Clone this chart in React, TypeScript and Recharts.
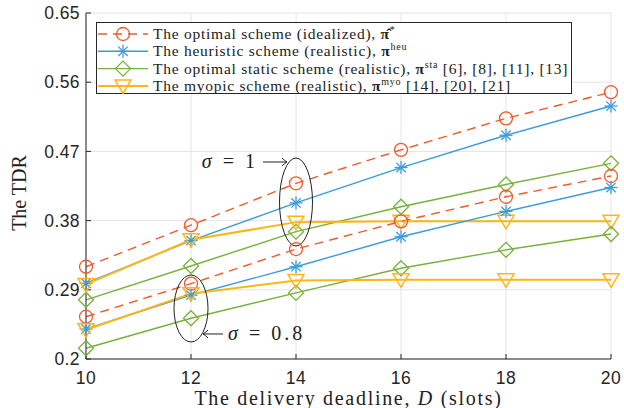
import React from 'react';
import { LineChart, Line, XAxis, YAxis, CartesianGrid, Legend, ReferenceDot } from 'recharts';

// delivery deadline D (slots)
const deadlines = [10, 12, 14, 16, 18, 20];

// sigma = 1
const optimalHigh = [0.32, 0.374, 0.4285, 0.472, 0.513, 0.547];
const heuristicHigh = [0.2985, 0.354, 0.403, 0.449, 0.491, 0.529];
const staticHigh = [0.277, 0.321, 0.3656, 0.398, 0.427, 0.4545];
const myopicHigh = [0.297, 0.355, 0.378, 0.379, 0.379, 0.379];

// sigma = 0.8
const optimalLow = [0.255, 0.298, 0.343, 0.379, 0.411, 0.438];
const heuristicLow = [0.239, 0.283, 0.32, 0.359, 0.392, 0.423];
const staticLow = [0.214, 0.253, 0.286, 0.318, 0.342, 0.3626];
const myopicLow = [0.238, 0.285, 0.302, 0.303, 0.303, 0.303];

const xTicks = [10, 12, 14, 16, 18, 20];
const yTicks = [0.2, 0.29, 0.38, 0.47, 0.56, 0.65];

const RED = '#EF5A2B';
const BLUE = '#3C9BDC';
const GREEN = '#77B13A';
const YELLOW = '#FDB714';
const AXIS = '#262626';
const SERIF = '"Liberation Serif", "Times New Roman", serif';
const SANS = '"Liberation Sans", Arial, sans-serif';

const data = deadlines.map((d, i) => ({
  d,
  optHi: optimalHigh[i],
  heuHi: heuristicHigh[i],
  staHi: staticHigh[i],
  myoHi: myopicHigh[i],
  optLo: optimalLow[i],
  heuLo: heuristicLow[i],
  staLo: staticLow[i],
  myoLo: myopicLow[i],
}));

type MarkerKind = 'circle' | 'star' | 'diamond' | 'triangle';

const Marker = ({ kind, cx, cy, color }: { kind: MarkerKind; cx: number; cy: number; color: string }) => {
  if (kind === 'circle') {
    return <circle cx={cx} cy={cy} r={6.5} fill="none" stroke={color} strokeWidth={1.3} />;
  }
  if (kind === 'star') {
    const r = 6.5;
    const d = r * 0.72;
    return (
      <g stroke={color} strokeWidth={1.3}>
        <line x1={cx - r} y1={cy} x2={cx + r} y2={cy} />
        <line x1={cx} y1={cy - r} x2={cx} y2={cy + r} />
        <line x1={cx - d} y1={cy - d} x2={cx + d} y2={cy + d} />
        <line x1={cx - d} y1={cy + d} x2={cx + d} y2={cy - d} />
      </g>
    );
  }
  if (kind === 'diamond') {
    const r = 7.5;
    return (
      <polygon
        points={`${cx},${cy - r} ${cx + r},${cy} ${cx},${cy + r} ${cx - r},${cy}`}
        fill="none"
        stroke={color}
        strokeWidth={1.3}
      />
    );
  }
  return (
    <polygon
      points={`${cx - 8},${cy - 6} ${cx + 8},${cy - 6} ${cx},${cy + 7.5}`}
      fill="none"
      stroke={color}
      strokeWidth={1.5}
    />
  );
};

const dotFor = (kind: MarkerKind, color: string) => (p: any) =>
  <Marker key={`${kind}-${p.index}`} kind={kind} cx={p.cx} cy={p.cy} color={color} />;

const legendRows = [
  { color: RED, kind: 'circle' as MarkerKind, dash: '9 6', width: 1.4, text: 'The optimal scheme (idealized), ', sym: 'π̂', sup: '*', tail: '' },
  { color: BLUE, kind: 'star' as MarkerKind, dash: undefined, width: 1.4, text: 'The heuristic scheme (realistic), ', sym: 'π', sup: 'heu', tail: '' },
  { color: GREEN, kind: 'diamond' as MarkerKind, dash: undefined, width: 1.4, text: 'The optimal static scheme (realistic), ', sym: 'π', sup: 'sta', tail: ' [6], [8], [11], [13]' },
  { color: YELLOW, kind: 'triangle' as MarkerKind, dash: undefined, width: 2, text: 'The myopic scheme (realistic), ', sym: 'π', sup: 'myo', tail: ' [14], [20], [21]' },
];

const LegendBox = () => (
  <svg width={476} height={72} style={{ display: 'block' }}>
    <rect x={0.5} y={0.5} width={475} height={71} fill="#fff" stroke={AXIS} strokeWidth={1} />
    {legendRows.map((row, i) => {
      const y = 12 + i * 17.3;
      return (
        <g key={row.sup}>
          <line x1={2} y1={y} x2={52} y2={y} stroke={row.color} strokeWidth={row.width} strokeDasharray={row.dash} />
          <Marker kind={row.kind} cx={27} cy={y} color={row.color} />
          <text x={57} y={y + 5} fontFamily={SERIF} fontSize={15.5} letterSpacing={0.75} fill="#222">
            <tspan>{row.text}</tspan>
            <tspan fontWeight="bold">{row.sym}</tspan>
            <tspan dy={-6} fontSize={10}>{row.sup}</tspan>
            <tspan dy={6}>{row.tail}</tspan>
          </text>
        </g>
      );
    })}
  </svg>
);

const XLabel = ({ viewBox }: any) => (
  <text
    x={viewBox.x + viewBox.width / 2}
    y={viewBox.y + viewBox.height - 3}
    textAnchor="middle"
    fontFamily={SERIF}
    fontSize={20}
    letterSpacing={1.7}
    fill="#222"
  >
    The delivery deadline, <tspan fontStyle="italic">D</tspan> (slots)
  </text>
);

const YLabel = ({ viewBox }: any) => {
  const x = viewBox.x + 26;
  const y = viewBox.y + viewBox.height / 2 + 7;
  return (
    <text x={x} y={y} transform={`rotate(-90, ${x}, ${y})`} textAnchor="middle" fontFamily={SERIF} fontSize={20} fill="#222">
      The TDR
    </text>
  );
};

// a LaTeX-like arrow drawn between x1 and x2 (head at x2)
const Arrow = ({ x1, x2, y }: { x1: number; x2: number; y: number }) => {
  const dir = x2 > x1 ? 1 : -1;
  return (
    <g stroke="#222" strokeWidth={1} fill="none">
      <line x1={x1} y1={y} x2={x2} y2={y} />
      <path d={`M${x2 - dir * 5},${y - 4} Q${x2 - dir * 2},${y - 1} ${x2},${y} Q${x2 - dir * 2},${y + 1} ${x2 - dir * 5},${y + 4}`} />
    </g>
  );
};

const SigmaOne = (p: any) => (
  <g>
    <ellipse cx={p.cx} cy={p.cy} rx={16.5} ry={44} fill="none" stroke="#222" strokeWidth={1} />
    <text x={p.cx - 38} y={p.cy - 34} textAnchor="end" fontFamily={SERIF} fontSize={20} letterSpacing={3} fill="#222">
      <tspan fontStyle="italic">σ</tspan> = 1
    </text>
    <Arrow x1={p.cx - 33} x2={p.cx - 9} y={p.cy - 40} />
  </g>
);

const SigmaLow = (p: any) => (
  <g>
    <ellipse cx={p.cx} cy={p.cy} rx={17} ry={33.5} fill="none" stroke="#222" strokeWidth={1} />
    <Arrow x1={p.cx + 32} x2={p.cx + 12} y={p.cy + 25.5} />
    <text x={p.cx + 37} y={p.cy + 32} textAnchor="start" fontFamily={SERIF} fontSize={20} letterSpacing={3} fill="#222">
      <tspan fontStyle="italic">σ</tspan> = 0.8
    </text>
  </g>
);

const tickStyle = { fill: AXIS, fontSize: 17.5, fontFamily: SANS, letterSpacing: 0.4 };

const App = () => (
  <div style={{ position: 'absolute', left: 0, top: 0, background: '#fff' }}>
    <LineChart width={624} height={408} data={data} margin={{ top: 13, right: 13, left: 0, bottom: 0 }}>
      <CartesianGrid stroke="#e4e4e4" />
      <XAxis
        dataKey="d"
        type="number"
        domain={[10, 20]}
        ticks={xTicks}
        height={49}
        tickSize={-5}
        tickMargin={18}
        stroke={AXIS}
        tick={tickStyle}
        label={<XLabel />}
      />
      <XAxis xAxisId="top" orientation="top" dataKey="d" type="number" domain={[10, 20]} ticks={xTicks} height={0} tickSize={-5} tick={false} stroke={AXIS} />
      <YAxis
        type="number"
        domain={[0.2, 0.65]}
        ticks={yTicks}
        width={86}
        tickSize={-5}
        tickMargin={11}
        stroke={AXIS}
        tick={tickStyle}
        tickFormatter={(v: number) => String(v)}
        label={<YLabel />}
      />
      <YAxis yAxisId="right" orientation="right" type="number" domain={[0.2, 0.65]} ticks={yTicks} width={0} tickSize={-5} tick={false} stroke={AXIS} />

      <Line dataKey="optHi" stroke={RED} strokeWidth={1.4} strokeDasharray="9 6" dot={dotFor('circle', RED)} isAnimationActive={false} />
      <Line dataKey="heuHi" stroke={BLUE} strokeWidth={1.4} dot={dotFor('star', BLUE)} isAnimationActive={false} />
      <Line dataKey="staHi" stroke={GREEN} strokeWidth={1.4} dot={dotFor('diamond', GREEN)} isAnimationActive={false} />
      <Line dataKey="myoHi" stroke={YELLOW} strokeWidth={2} dot={dotFor('triangle', YELLOW)} isAnimationActive={false} />
      <Line dataKey="optLo" stroke={RED} strokeWidth={1.4} strokeDasharray="9 6" dot={dotFor('circle', RED)} isAnimationActive={false} />
      <Line dataKey="heuLo" stroke={BLUE} strokeWidth={1.4} dot={dotFor('star', BLUE)} isAnimationActive={false} />
      <Line dataKey="staLo" stroke={GREEN} strokeWidth={1.4} dot={dotFor('diamond', GREEN)} isAnimationActive={false} />
      <Line dataKey="myoLo" stroke={YELLOW} strokeWidth={2} dot={dotFor('triangle', YELLOW)} isAnimationActive={false} />

      <ReferenceDot x={14} y={0.4042} r={0} shape={SigmaOne} />
      <ReferenceDot x={12} y={0.2657} r={0} shape={SigmaLow} />

      <Legend
        layout="vertical"
        align="center"
        verticalAlign="middle"
        width={476}
        height={72}
        wrapperStyle={{ left: 96, top: 22, width: 476, height: 72 }}
        content={() => <LegendBox />}
      />
    </LineChart>
  </div>
);

export default App;
